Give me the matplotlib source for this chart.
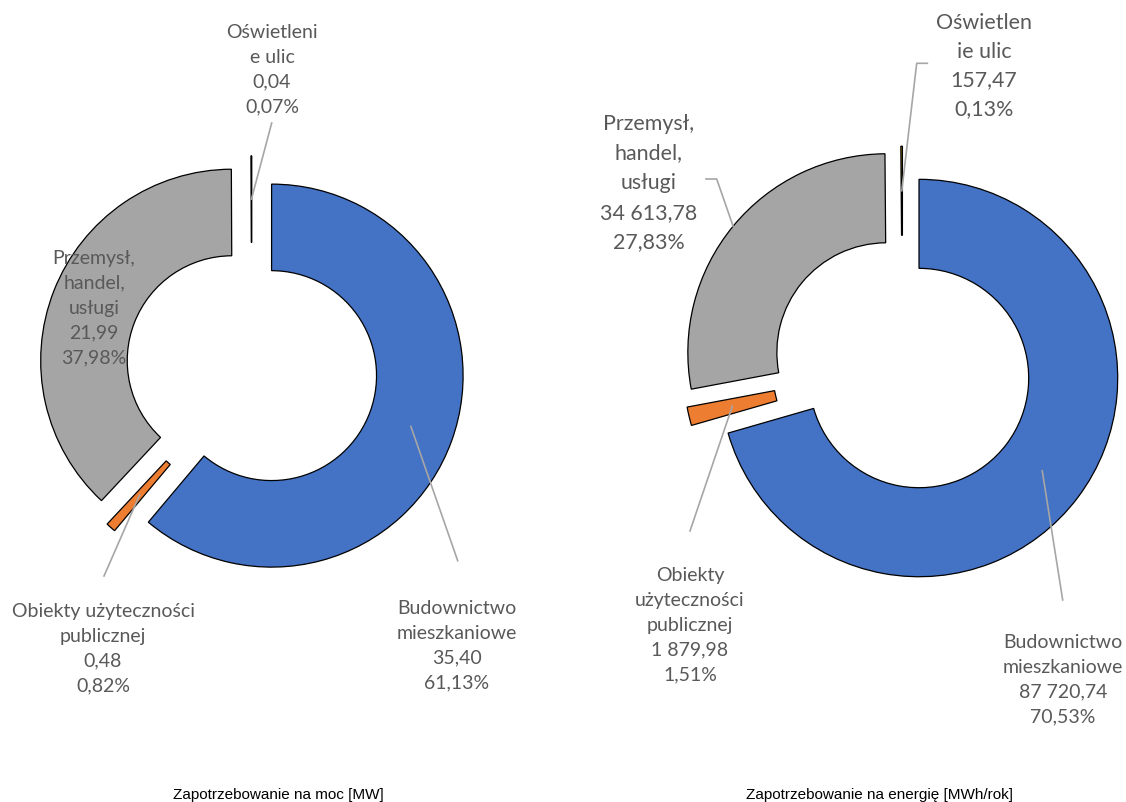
import matplotlib.pyplot as plt
import numpy as np

# dane
kategorie = ['Budownictwo mieszkaniowe', 'Obiekty użyteczności publicznej',
             'Przemysł, handel, usługi', 'Oświetlenie ulic']
moc = [35.40, 0.48, 21.99, 0.04]
moc_proc = [61.13, 0.82, 37.98, 0.07]
energia = [87720.74, 1879.98, 34613.78, 157.47]
energia_proc = [70.53, 1.51, 27.83, 0.13]

etyk_moc = ['Budownictwo\nmieszkaniowe', 'Obiekty użyteczności\npublicznej',
            'Przemysł,\nhandel,\nusługi', 'Oświetleni\ne ulic']
etyk_energia = ['Budownictwo\nmieszkaniowe', 'Obiekty\nużyteczności\npublicznej',
                'Przemysł,\nhandel,\nusługi', 'Oświetlen\nie ulic']

kolory = ['#4472C4', '#ED7D31', '#A5A5A5', '#FFC000']
TXT = '#595959'
LINIA = '#A6A6A6'

W, H = 1126, 802
fig = plt.figure(figsize=(W / 100, H / 100), dpi=100)


def fmt(v):
    return f'{v:,.2f}'.replace(',', ' ').replace('.', ',')


def donut(cx, cy, R, values, explode, width):
    a = 1.4
    half = a * R
    ax = fig.add_axes([(cx - half) / W, (H - cy - half) / H, 2 * half / W, 2 * half / H])
    wedges, _ = ax.pie(values, radius=1, startangle=90, counterclock=False,
                       explode=[explode] * len(values), colors=kolory,
                       wedgeprops=dict(width=width, edgecolor='black', linewidth=0.9))
    # pie ustawia swoje limity, więc nadpisujemy po nim
    ax.set_xlim(-a, a)
    ax.set_ylim(-a, a)
    ax.axis('off')
    p2d = lambda px, py: ((px - cx) / R, (cy - py) / R)
    return ax, wedges, p2d


def anchor(w, rr):
    t = np.deg2rad((w.theta1 + w.theta2) / 2)
    return w.center[0] + rr * np.cos(t), w.center[1] + rr * np.sin(t)


def label(ax, p2d, px, py, text, size, ls=1.55):
    x, y = p2d(px, py)
    ax.text(x, y, text, ha='center', va='center', fontsize=size, color=TXT,
            family='Lato', linespacing=ls, clip_on=False)


def leader(ax, p2d, pts, end):
    xs = [p2d(*p)[0] for p in pts] + [end[0]]
    ys = [p2d(*p)[1] for p in pts] + [end[1]]
    ax.plot(xs, ys, color=LINIA, lw=1.2, clip_on=False, zorder=3)


fs = 14
fs_big = 15.4

# lewy wykres - moc
w1 = 0.452
ax1, wd1, p1 = donut(251.8, 368.4, 191.5, moc, 0.11, w1)
mid1 = 1 - w1 / 2
txt1 = [f'{e}\n{fmt(v)}\n{fmt(p)}%' for e, v, p in zip(etyk_moc, moc, moc_proc)]
label(ax1, p1, 457, 646, txt1[0], fs)
label(ax1, p1, 103, 649, txt1[1], fs)
label(ax1, p1, 94, 308, txt1[2], fs)
label(ax1, p1, 272, 70, txt1[3], fs)
leader(ax1, p1, [(457.7, 560.7)], anchor(wd1[0], mid1))
leader(ax1, p1, [(104, 576)], anchor(wd1[1], mid1))
leader(ax1, p1, [(271.7, 123)], anchor(wd1[3], mid1))

# prawy wykres - energia
w2 = 0.448
ax2, wd2, p2 = donut(902.5, 365.6, 198.7, energia, 0.104, w2)
mid2 = 1 - w2 / 2
txt2 = [f'{e}\n{fmt(v)}\n{fmt(p)}%' for e, v, p in zip(etyk_energia, energia, energia_proc)]
label(ax2, p2, 1063, 680, txt2[0], fs)
label(ax2, p2, 690, 625, txt2[1], fs)
label(ax2, p2, 649, 183, txt2[2], fs_big, 1.6)
label(ax2, p2, 984, 66, txt2[3], fs_big, 1.55)
leader(ax2, p2, [(1062.7, 600)], anchor(wd2[0], mid2))
leader(ax2, p2, [(690, 531)], anchor(wd2[1], mid2))
leader(ax2, p2, [(706, 179), (716.7, 179)], anchor(wd2[2], 1.0))
leader(ax2, p2, [(927.3, 63.3), (916.7, 63.3)], anchor(wd2[3], mid2))

# tytuły na dole
fig.text(278 / W, (H - 795) / H, 'Zapotrzebowanie na moc [MW]', ha='center', va='center',
         fontsize=11, family='Liberation Sans', color='black')
fig.text(880 / W, (H - 795) / H, 'Zapotrzebowanie na energię [MWh/rok]', ha='center', va='center',
         fontsize=11, family='Liberation Sans', color='black')

fig.savefig('out.png', dpi=100, facecolor='white')
